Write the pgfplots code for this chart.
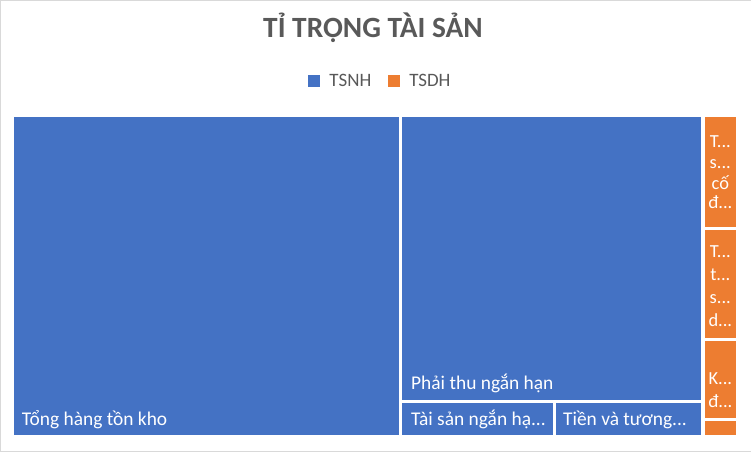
\documentclass[border=0pt]{standalone}
\usepackage{pgfplots}
\pgfplotsset{compat=1.18}
\usepackage{fontspec}
\setmainfont{Carlito}
\definecolor{tsnh}{HTML}{4472C4}
\definecolor{tsdh}{HTML}{ED7D31}
\definecolor{txtgray}{HTML}{595959}
\begin{document}
\begin{tikzpicture}
\begin{axis}[
  width=751bp, height=451bp, scale only axis,
  xmin=0, xmax=751, ymin=0, ymax=451, y dir=reverse,
  axis line style={draw=black!15},
  xtick=\empty, ytick=\empty,
  clip=false,
  legend style={at={(axis cs:379.5,81)}, anchor=center, draw=none, fill=none,
    legend columns=2, text=txtgray, font=\fontsize{19}{22}\selectfont,
    nodes={inner xsep=0pt},
    /tikz/every odd column/.append style={column sep=9bp},
    /tikz/every even column/.append style={column sep=17bp}},
  legend image code/.code={\path[#1,draw=none] (0bp,-6bp) rectangle (12bp,6bp);},
]
% TSNH
\addplot[fill=tsnh, draw=none] coordinates {(14,117) (399.5,117) (399.5,435.5) (14,435.5)};
\addlegendentry{TSNH}
\addplot[fill=tsdh, draw=none, forget plot] coordinates {(705,117) (736,117) (736,226.5) (705,226.5)};
\addplot[fill=tsnh, draw=none, forget plot] coordinates {(402.5,117) (701.5,117) (701.5,400) (402.5,400)};
\addplot[fill=tsnh, draw=none, forget plot] coordinates {(402.5,403.5) (553,403.5) (553,435.5) (402.5,435.5)};
\addplot[fill=tsnh, draw=none, forget plot] coordinates {(556,403.5) (701.5,403.5) (701.5,435.5) (556,435.5)};
% TSDH
\addplot[fill=tsdh, draw=none] coordinates {(705,230) (736,230) (736,337.5) (705,337.5)};
\addlegendentry{TSDH}
\addplot[fill=tsdh, draw=none, forget plot] coordinates {(705,341) (736,341) (736,418) (705,418)};
\addplot[fill=tsdh, draw=none, forget plot] coordinates {(705,421.5) (736,421.5) (736,435.5) (705,435.5)};

\node[anchor=base, font=\bfseries\fontsize{29.5}{34}\selectfont, text=txtgray] at (axis cs:373,37) {TỈ TRỌNG TÀI SẢN};

\tikzset{lbl/.style={anchor=base west, text=white, font=\fontsize{19.5}{23}\selectfont, inner sep=0pt}}
\tikzset{olbl/.style={anchor=base, text=white, font=\fontsize{18.5}{22}\selectfont, inner sep=0pt}}
\node[lbl] at (axis cs:21.5,425.7) {Tổng hàng tồn kho};
\node[lbl] at (axis cs:411,389.5) {Phải thu ngắn hạn};
\node[lbl] at (axis cs:411,425.5) {Tài sản ngắn hạ...};
\node[lbl] at (axis cs:563,425.5) {Tiền và tương...};
\node[olbl] at (axis cs:720.5,147) {T...};
\node[olbl] at (axis cs:720.5,168.5) {s...};
\node[olbl] at (axis cs:720.5,189.5) {cố};
\node[olbl] at (axis cs:720.5,208) {đ...};
\node[olbl] at (axis cs:720.5,257) {T...};
\node[olbl] at (axis cs:720.5,280) {t...};
\node[olbl] at (axis cs:720.5,303) {s...};
\node[olbl] at (axis cs:720.5,326) {d...};
\node[olbl] at (axis cs:720.5,384) {K...};
\node[olbl] at (axis cs:720.5,407.5) {đ...};
\end{axis}
\end{tikzpicture}
\end{document}
